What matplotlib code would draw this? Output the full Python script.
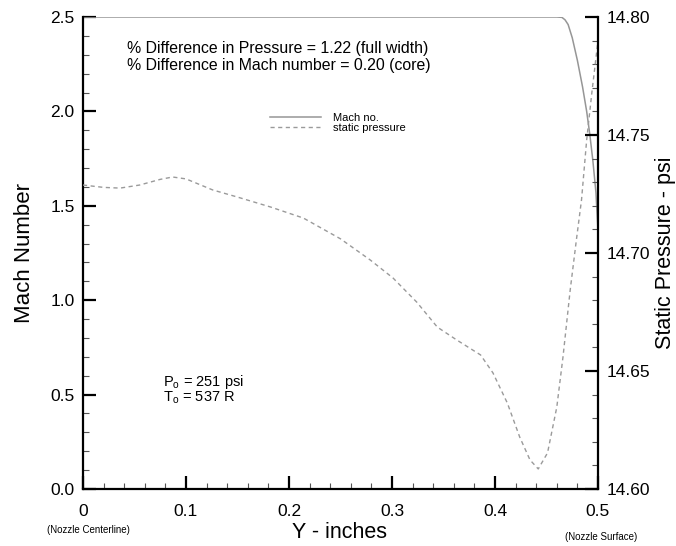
import matplotlib
matplotlib.use('Agg')
import matplotlib.pyplot as plt
from matplotlib.ticker import MultipleLocator

plt.rcParams['font.family'] = ['Liberation Sans', 'DejaVu Sans']
plt.rcParams['mathtext.fontset'] = 'custom'
plt.rcParams['mathtext.rm'] = 'Liberation Sans'

# Mach number across the nozzle exit
y_mach = [0.0, 0.1, 0.2, 0.3, 0.4, 0.46, 0.465, 0.468, 0.471, 0.475, 0.480,
          0.485, 0.489, 0.492, 0.495, 0.498, 0.5]
mach = [2.5, 2.5, 2.5, 2.5, 2.5, 2.5, 2.498, 2.485, 2.46, 2.39, 2.27,
        2.13, 2.0, 1.88, 1.74, 1.57, 1.37]

# static pressure (psi)
y_press = [0.0, 0.02, 0.036, 0.055, 0.075, 0.087, 0.1, 0.126, 0.15, 0.182,
           0.214, 0.25, 0.279, 0.301, 0.324, 0.344, 0.363, 0.386, 0.398,
           0.412, 0.424, 0.434, 0.442, 0.451, 0.46, 0.466, 0.473, 0.479,
           0.484, 0.489, 0.494, 0.5]
press = [14.7288, 14.7278, 14.7275, 14.7288, 14.7312, 14.7322, 14.7314,
         14.7267, 14.7237, 14.7195, 14.7148, 14.7060, 14.6970, 14.6894,
         14.6792, 14.6686, 14.6631, 14.6568, 14.6492, 14.6364, 14.6220,
         14.6123, 14.6085, 14.6153, 14.6347, 14.6559, 14.6843, 14.7055,
         14.7225, 14.7479, 14.7678, 14.790]

x_ticks = [0, 0.1, 0.2, 0.3, 0.4, 0.5]
x_labels = ['0', '0.1', '0.2', '0.3', '0.4', '0.5']

fig = plt.figure(figsize=(6.76, 5.46), dpi=100)
ax = fig.add_axes([83/676, 1 - 489/546, 515/676, 472/546])
ax2 = ax.twinx()

l1, = ax.plot(y_mach, mach, color='#969696', lw=1.1, label='Mach no.')
l2, = ax2.plot(y_press, press, color='#9a9a9a', lw=1.0, ls=(0, (3, 2.5)),
               label='static pressure')

ax.set_xlim(0, 0.5)
ax.set_ylim(0, 2.5)
ax2.set_ylim(14.60, 14.80)

ax.set_xticks(x_ticks)
ax.set_xticklabels(x_labels)
ax.xaxis.set_minor_locator(MultipleLocator(0.02))
ax.yaxis.set_major_locator(MultipleLocator(0.5))
ax.yaxis.set_minor_locator(MultipleLocator(0.1))
ax.yaxis.set_major_formatter(matplotlib.ticker.FormatStrFormatter('%.1f'))
ax2.yaxis.set_major_locator(MultipleLocator(0.05))
ax2.yaxis.set_minor_locator(MultipleLocator(0.01))
ax2.yaxis.set_major_formatter(matplotlib.ticker.FormatStrFormatter('%.2f'))

for a in (ax, ax2):
    a.spines['top'].set_visible(False)
    for s in a.spines.values():
        s.set_linewidth(1.6)
        s.set_color('black')
    a.tick_params(which='major', direction='in', length=9.5, width=1.6,
                  labelsize=12.5, pad=6)
    a.tick_params(which='minor', direction='in', length=4.5, width=0.8,
                  color='#555555')
ax.tick_params(axis='x', which='major', pad=11)
ax2.spines['left'].set_visible(False)
ax2.spines['bottom'].set_visible(False)
ax.spines['right'].set_visible(False)

ax.set_ylabel('Mach Number', fontsize=16)
ax.yaxis.set_label_coords(-0.093, 0.5)
ax2.set_ylabel('Static Pressure - psi', fontsize=15.5)
ax2.yaxis.set_label_coords(1.111, 0.5)
ax.set_xlabel('Y - inches', fontsize=15.5)
ax.xaxis.set_label_coords(0.499, -0.07)

ax.text(0.0097, -0.087, '(Nozzle Centerline)', transform=ax.transAxes,
        fontsize=7, ha='center', va='center')
ax.text(1.006, -0.102, '(Nozzle Surface)', transform=ax.transAxes,
        fontsize=7, ha='center', va='center')

ax.text(0.0854, 0.934, '% Difference in Pressure = 1.22 (full width)',
        transform=ax.transAxes, fontsize=11.4, va='center')
ax.text(0.0854, 0.898, '% Difference in Mach number = 0.20 (core)',
        transform=ax.transAxes, fontsize=11.4, va='center')

ax.text(0.155, 0.2267, r'P$_\mathregular{o}$ = 251 psi',
        transform=ax.transAxes, fontsize=10.5, va='center')
ax.text(0.155, 0.193, r'T$_\mathregular{o}$ = 537 R',
        transform=ax.transAxes, fontsize=10.5, va='center')

ax.legend([l1, l2], ['Mach no.', 'static pressure'], loc='upper left',
          bbox_to_anchor=(270/676, 1 - 113/546), bbox_transform=fig.transFigure,
          frameon=False, fontsize=8, handlelength=4.6, handletextpad=1.1,
          labelspacing=0.0, borderpad=0, borderaxespad=0)

fig.savefig('out.png', dpi=100)
